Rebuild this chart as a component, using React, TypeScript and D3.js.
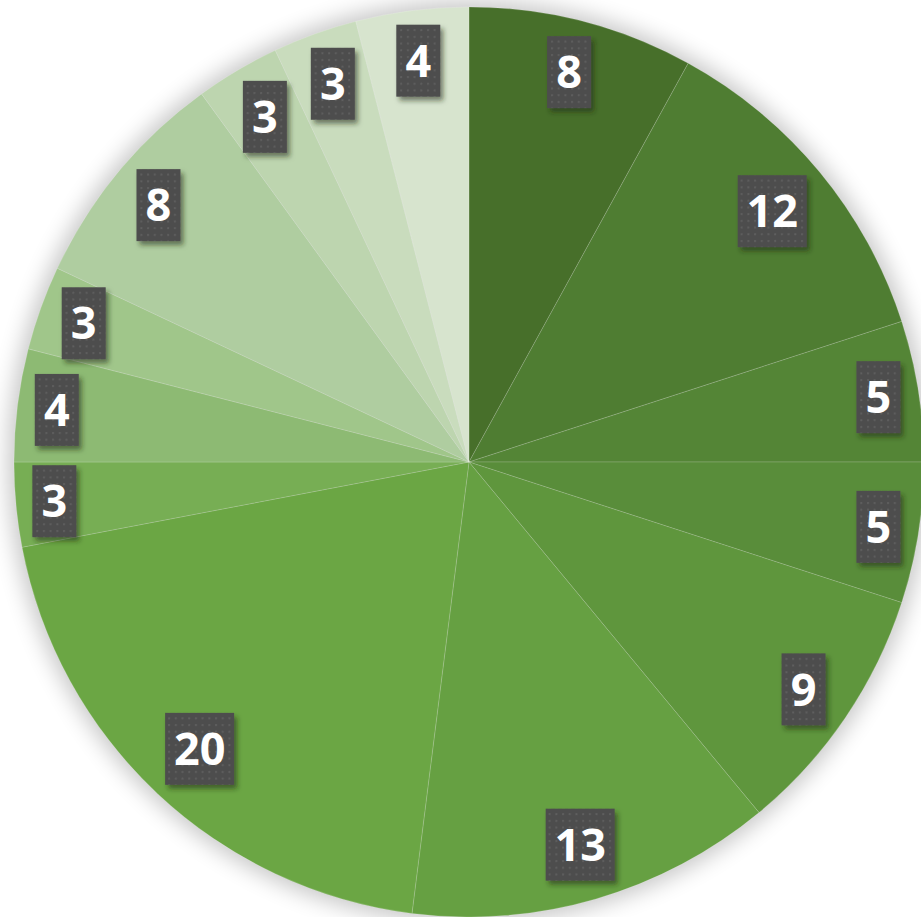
import React, { useEffect, useRef } from "react";
import * as d3 from "d3";

// slice values, clockwise from 12 o'clock
const categories = ["A", "B", "C", "D", "E", "F", "G", "H", "I", "J", "K", "L", "M", "N"];
const values = [8, 12, 5, 5, 9, 13, 20, 3, 4, 3, 8, 3, 3, 4];
const colors = [
    "#476f2a", "#4f7d32", "#548536", "#598d3a", "#5f963d", "#66a042", "#6ba644",
    "#77ae54", "#8dba73", "#a0c68a", "#afcda0", "#bdd5af", "#c9dcbd", "#d7e4ce",
];

const W = 921;
const H = 917;

const PieChart = () => {
    const svgRef = useRef<SVGSVGElement>(null);

    useEffect(() => {
        const svg = d3.select(svgRef.current);
        svg.selectAll("*").remove();

        const cx = 469, cy = 462, R = 455;
        const data = categories.map((c, i) => ({ cat: c, value: values[i] }));

        const defs = svg.append("defs");
        defs.append("filter").attr("id", "halo")
            .attr("x", "-20%").attr("y", "-20%").attr("width", "140%").attr("height", "140%")
            .append("feGaussianBlur").attr("stdDeviation", 11);

        const shadow = defs.append("filter").attr("id", "boxShadow")
            .attr("x", "-30%").attr("y", "-30%").attr("width", "170%").attr("height", "170%");
        shadow.append("feDropShadow")
            .attr("dx", 3).attr("dy", 4).attr("stdDeviation", 2.5)
            .attr("flood-color", "#1e2a12").attr("flood-opacity", 0.55);

        const pat = defs.append("pattern").attr("id", "dots")
            .attr("patternUnits", "userSpaceOnUse").attr("width", 6.7).attr("height", 6.7);
        pat.append("rect").attr("width", 6.7).attr("height", 6.7).attr("fill", "#4d4d4d");
        pat.append("rect").attr("x", 2).attr("y", 2).attr("width", 2).attr("height", 2).attr("fill", "#5e5e5e");

        const g = svg.append("g").attr("transform", `translate(${cx},${cy})`);

        // soft gray glow around the pie
        g.append("circle").attr("r", R + 6).attr("fill", "#000").attr("opacity", 0.22)
            .attr("filter", "url(#halo)");

        const pie = d3.pie<any>().sort(null).value(d => d.value);
        const arcs = pie(data);
        const arc = d3.arc<any>().innerRadius(0).outerRadius(R);

        g.append("g").selectAll("path")
            .data(arcs)
            .enter()
            .append("path")
            .attr("d", arc)
            .attr("fill", (d, i) => colors[i])
            .attr("stroke", "rgba(255,255,255,0.2)")
            .attr("stroke-width", 0.8);

        // labels: box pushed out along the mid angle until its far corner sits near the rim
        const margin = 12;
        const lab = g.append("g");
        arcs.forEach(d => {
            const txt = String(d.data.value);
            const bw = txt.length > 1 ? 69 : 44;
            const bh = 72;
            const a = (d.startAngle + d.endAngle) / 2;
            const ux = Math.sin(a), uy = -Math.cos(a);
            let r = 200;
            for (; r < R; r += 0.5) {
                const x = ux * r, y = uy * r;
                const fx = x + Math.sign(ux) * bw / 2;
                const fy = y + Math.sign(uy) * bh / 2;
                if (Math.hypot(fx, fy) > R - margin) break;
            }
            const x = ux * r, y = uy * r;
            const item = lab.append("g").attr("transform", `translate(${x},${y})`);
            item.append("rect")
                .attr("x", -bw / 2).attr("y", -bh / 2)
                .attr("width", bw).attr("height", bh)
                .attr("fill", "url(#dots)")
                .attr("filter", "url(#boxShadow)");
            item.append("text")
                .attr("text-anchor", "middle")
                .attr("dy", "0.36em")
                .attr("fill", "#fff")
                .attr("font-family", "'Open Sans', sans-serif")
                .attr("font-weight", 700)
                .attr("font-size", 45)
                .text(txt);
        });
    }, []);

    return (
        <div style={{ position: "absolute", left: 0, top: 0, width: W, height: H, background: "#fff" }}>
            <svg ref={svgRef} width={W} height={H} style={{ display: "block" }} />
        </div>
    );
};

export default function App() {
    return <PieChart />;
}
